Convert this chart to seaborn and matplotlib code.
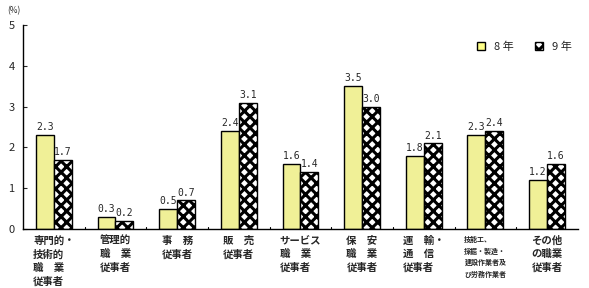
import matplotlib
matplotlib.use("Agg")
import matplotlib.pyplot as plt
import matplotlib.patches as mpatches
import seaborn as sns
import pandas as pd

categories = [
    "専門的・\n技術的\n職　業\n従事者",
    "管理的\n職　業\n従事者",
    "事　務\n従事者",
    "販　売\n従事者",
    "サービス\n職　業\n従事者",
    "保　安\n職　業\n従事者",
    "運　輸・\n通　信\n従事者",
    "技能工、\n採掘・製造・\n建設作業者及\nび労務作業者",
    "その他\nの職業\n従事者",
]
series_names = ["8 年", "9 年"]
values_h8 = [2.3, 0.3, 0.5, 2.4, 1.6, 3.5, 1.8, 2.3, 1.2]
values_h9 = [1.7, 0.2, 0.7, 3.1, 1.4, 3.0, 2.1, 2.4, 1.6]
yticks = [0, 1, 2, 3, 4, 5]

sns.set_style("white")
plt.rcParams['font.family'] = ['Noto Sans CJK JP', 'DejaVu Sans']
plt.rcParams['hatch.linewidth'] = 2.2

df = pd.DataFrame({
    "cat": categories * 2,
    "year": [series_names[0]] * len(categories) + [series_names[1]] * len(categories),
    "val": values_h8 + values_h9,
})

fig = plt.figure(figsize=(5.89, 2.88), dpi=100)
ax = fig.add_axes([0.039, 0.205, 0.942, 0.708])
sns.barplot(data=df, x="cat", y="val", hue="year", order=categories,
            hue_order=series_names, palette=["#FFFF88", "white"],
            width=0.58, edgecolor="black", linewidth=1.0, ax=ax, gap=0)

for c in ax.containers[1]:
    c.set_hatch("xxx")
    c.set_facecolor("white")
    c.set_edgecolor("black")

for cont in ax.containers:
    ax.bar_label(cont, labels=[f"{v.get_height():.1f}" for v in cont],
                 padding=2, fontsize=7, family="DejaVu Sans Mono")

ax.set_ylim(0, 5)
ax.set_xlim(-0.5, len(categories) - 0.5)
ax.set_yticks(yticks)
ax.set_yticklabels([str(t) for t in yticks], fontsize=8)
ax.set_xlabel("")
ax.set_ylabel("")
ax.set_xticks(range(len(categories)))
ax.set_xticklabels(categories, fontsize=7.5, linespacing=1.4, fontweight="bold",
                   multialignment="left")
for lbl in ax.get_xticklabels():
    if lbl.get_text().startswith("技能工"):
        lbl.set_fontsize(5)
        lbl.set_linespacing(1.7)
ax.tick_params(axis="x", length=0, pad=5)
ax.tick_params(axis="y", length=3, direction="in", left=True, pad=6)
for b in range(1, len(categories)):
    ax.plot([b - 0.5, b - 0.5], [0, 0.05], color="black", lw=0.8, clip_on=False)

sns.despine(ax=ax, top=True, right=True)
for s in ["left", "bottom"]:
    ax.spines[s].set_color("black")
    ax.spines[s].set_linewidth(1.0)

fig.text(0.012, 0.955, "(%)", fontsize=6)
h1 = mpatches.Patch(facecolor="#FFFF88", edgecolor="black", linewidth=1.0)
h2 = mpatches.Patch(facecolor="white", edgecolor="black", hatch="xxx", linewidth=1.0)
ax.legend([h1, h2], series_names, loc="upper left", bbox_to_anchor=(0.8, 0.97), ncol=2,
          frameon=False, fontsize=8, handlelength=0.7, handleheight=0.7,
          columnspacing=2.0, handletextpad=0.8)
fig.savefig("out.png", dpi=100)
